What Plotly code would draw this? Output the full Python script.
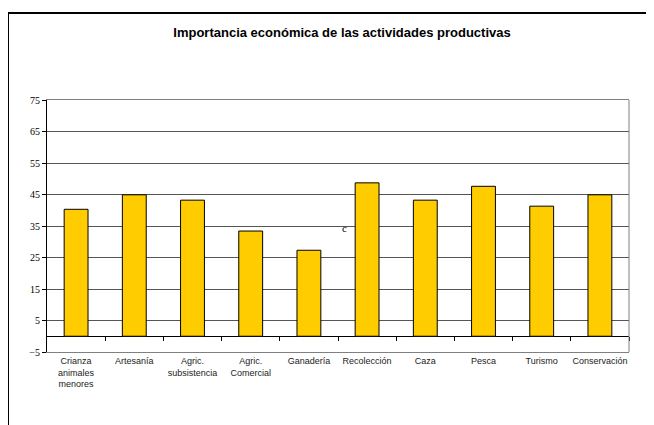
import plotly.graph_objects as go

categories = ["Crianza<br>animales<br>menores", "Artesanía", "Agric.<br>subsistencia",
              "Agric.<br>Comercial", "Ganadería", "Recolección", "Caza", "Pesca",
              "Turismo", "Conservación"]
values = [40.3, 44.9, 43.2, 33.4, 27.3, 48.7, 43.2, 47.6, 41.3, 44.9]
y_ticks = [-5, 5, 15, 25, 35, 45, 55, 65, 75]
title_text = "Importancia económica de las actividades productivas"

W, H = 654, 425
OFF = 8  # page body margin offset
ml, mr, mt, mb = 47 - OFF, 25 + OFF, 100 - OFF, 73 + OFF
ymin, ymax = -5, 75
plot_w = W - ml - mr
plot_h = H - mt - mb

fig = go.Figure()
fig.add_trace(go.Bar(
    x=categories, y=values, width=0.41,
    marker=dict(color="#FFCC00", line=dict(color="#000000", width=1)),
    hoverinfo="skip", showlegend=False,
))
# invisible trace to drive the secondary axis (tick marks on the zero line)
fig.add_trace(go.Scatter(x=[-0.5, len(categories) - 0.5], y=[0, 0], xaxis="x2",
                         mode="markers", marker=dict(opacity=0), hoverinfo="skip",
                         showlegend=False))

zero_pos = (0 - ymin) / (ymax - ymin)

def px_x(px):
    return (px - OFF - ml) / plot_w

def px_y(py):
    return (H - mb - (py - OFF)) / plot_h

fig.update_layout(
    width=W, height=H,
    margin=dict(l=ml, r=mr, t=mt, b=mb),
    paper_bgcolor="white", plot_bgcolor="white",
    title=dict(text="<b>" + title_text + "</b>", x=(342 - OFF) / W, xanchor="center",
               y=1 - (32 - OFF) / H, yanchor="middle",
               font=dict(family="Liberation Sans", size=13, color="#000")),
    xaxis=dict(type="category", range=[-0.5, len(categories) - 0.5],
               showline=True, linecolor="#808080", linewidth=1, mirror=True,
               ticks="", showgrid=False,
               tickfont=dict(family="Liberation Sans", size=9, color="#222")),
    xaxis2=dict(overlaying="x", anchor="free", position=zero_pos, side="bottom",
                range=[-0.5, len(categories) - 0.5],
                tickmode="array", tickvals=[i + 0.5 for i in range(len(categories))],
                ticks="outside", ticklen=4, tickcolor="#000", tickwidth=1,
                showticklabels=False, showgrid=False, showline=False, zeroline=False),
    yaxis=dict(range=[ymin, ymax], tickmode="array", tickvals=y_ticks,
               showgrid=True, gridcolor="#555555", gridwidth=1,
               zeroline=True, zerolinecolor="#000", zerolinewidth=1,
               showline=True, linecolor="#000", linewidth=1,
               ticks="outside", ticklen=4, tickcolor="#000",
               tickfont=dict(family="Liberation Serif", size=10, color="#000")),
    shapes=[
        # right border of plot area
        dict(type="line", xref="paper", yref="paper", x0=1, x1=1, y0=0, y1=1,
             line=dict(color="#808080", width=1)),
        # outer chart frame (top and left edges)
        dict(type="line", xref="paper", yref="paper",
             x0=px_x(8), x1=px_x(W + OFF), y0=px_y(13), y1=px_y(13),
             line=dict(color="#000", width=2)),
        dict(type="line", xref="paper", yref="paper",
             x0=px_x(8), x1=px_x(8), y0=px_y(13), y1=px_y(H + OFF),
             line=dict(color="#000", width=2)),
    ],
    annotations=[
        dict(text="c", x=4.62, y=34.4, xref="x", yref="y", showarrow=False,
             font=dict(family="Liberation Serif", size=11, color="#000")),
    ],
)

fig.write_html("out.html")
